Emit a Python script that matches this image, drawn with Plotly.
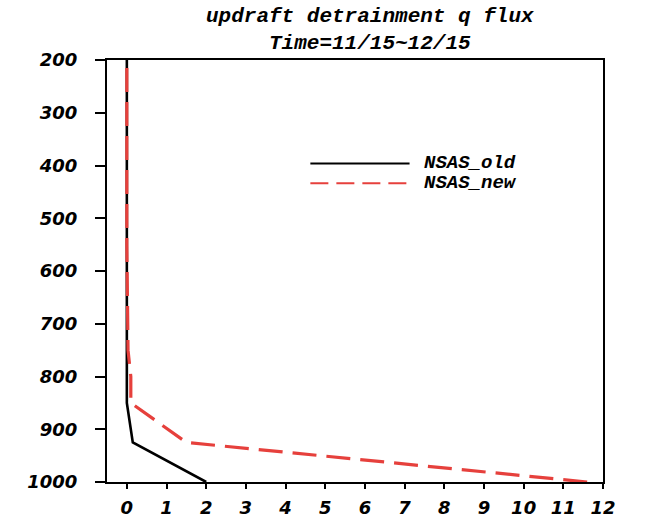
import plotly.graph_objects as go

pressure = [1000, 925, 850, 800, 750, 700, 650, 600, 550, 500, 450, 400, 350, 300, 250, 200]
nsas_old = [2.0, 0.15, 0.0, 0.0, 0.0, 0.0, 0.0, 0.0, 0.0, 0.0, 0.0, 0.0, 0.0, 0.0, 0.0, 0.0]
nsas_new = [11.6, 1.5, 0.1, 0.1, 0.03, 0.02, 0.01, 0.01, 0.0, 0.0, 0.0, 0.0, 0.0, 0.0, 0.0, 0.0]
x_ticks = list(range(0, 13))
y_ticks = list(range(200, 1001, 100))
series_names = ["NSAS_old", "NSAS_new"]
title_lines = ["updraft detrainment q flux", "Time=11/15~12/15"]

red = "#e6403c"
fig = go.Figure()
fig.add_trace(go.Scatter(x=nsas_old, y=pressure, mode="lines", name=series_names[0],
                         line=dict(color="black", width=2.6), showlegend=False))
fig.add_trace(go.Scatter(x=nsas_new, y=pressure, mode="lines", name=series_names[1],
                         line=dict(color=red, width=3.2, dash="24px,10px"), showlegend=False))

tickfont = dict(family="DejaVu Sans", size=18, color="black", weight="bold", style="italic")
serif = dict(family="Liberation Mono", size=19, color="black", style="italic", weight="bold")

fig.update_layout(
    width=668, height=530,
    margin=dict(l=107, r=65, t=60, b=26),
    paper_bgcolor="white", plot_bgcolor="white",
    xaxis=dict(range=[-0.5, 12], tickvals=x_ticks, ticktext=[str(v) for v in x_ticks],
               showgrid=False, zeroline=False, showline=True, linecolor="black", linewidth=2,
               mirror=True, ticks="outside", ticklen=5, tickcolor="black", tickwidth=1.5,
               tickfont=tickfont, ticklabelstandoff=3),
    yaxis=dict(range=[1000, 200], tickvals=y_ticks, ticktext=[str(v) for v in y_ticks],
               showgrid=False, zeroline=False, showline=True, linecolor="black", linewidth=2,
               mirror=True, ticks="outside", ticklen=10, tickcolor="black", tickwidth=1.5,
               tickfont=tickfont, ticklabelstandoff=14),
)

tfont = dict(family="Liberation Mono", size=21, color="black", style="italic", weight="bold")
fig.add_annotation(text=title_lines[0] + "<br>" + title_lines[1], xref="paper", yref="paper",
                   x=0.53, y=1.0, yanchor="middle", xanchor="center", showarrow=False,
                   font=tfont, yshift=30)

# legend
leg_y = [0.755, 0.708]
for i, (nm, col, dash) in enumerate(zip(series_names, ["black", red], ["solid", "18px,8px"])):
    fig.add_shape(type="line", xref="paper", yref="paper", x0=0.41, x1=0.61, y0=leg_y[i], y1=leg_y[i],
                  line=dict(color=col, width=2, dash=dash))
    fig.add_annotation(text=nm, xref="paper", yref="paper", x=0.635, y=leg_y[i], xanchor="left",
                       yanchor="middle", showarrow=False, font=serif)

fig.write_html("out.html")
